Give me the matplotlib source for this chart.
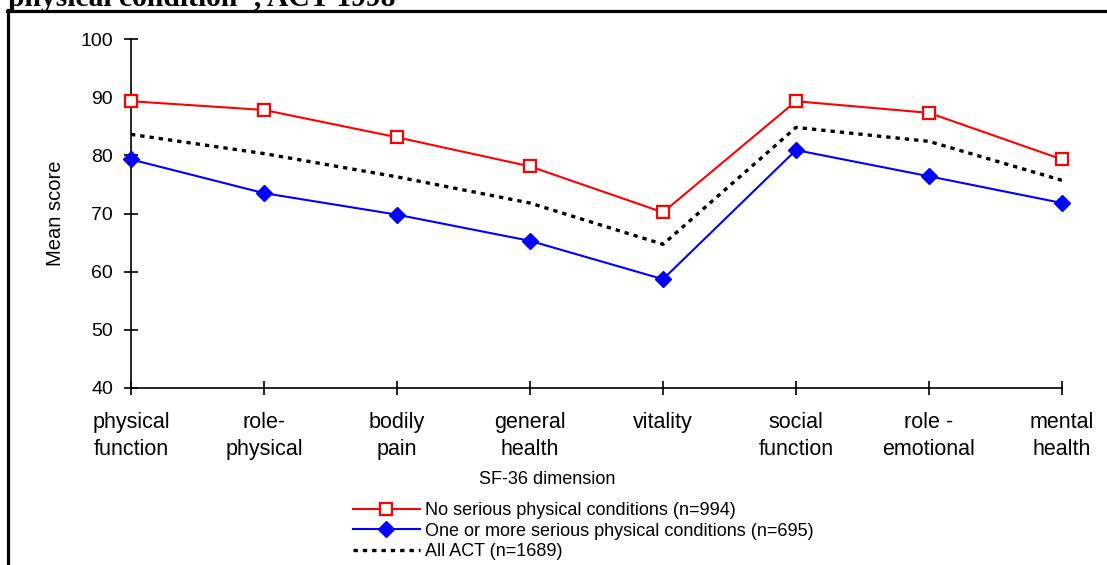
import matplotlib.pyplot as plt
from matplotlib.lines import Line2D
import numpy as np

plt.rcParams['font.family'] = ['Liberation Sans', 'DejaVu Sans']

# SF-36 dimensions
categories = ['physical\nfunction', 'role-\nphysical', 'bodily\npain', 'general\nhealth',
              'vitality', 'social\nfunction', 'role -\nemotional', 'mental\nhealth']
no_serious = [89.3, 87.8, 83.1, 78.1, 70.2, 89.3, 87.3, 79.3]
one_or_more = [79.3, 73.5, 69.8, 65.3, 58.7, 80.9, 76.4, 71.8]
all_act = [83.6, 80.3, 76.3, 71.8, 64.7, 84.8, 82.4, 75.7]
labels = ['No serious physical conditions (n=994)',
          'One or more serious physical conditions (n=695)',
          'All ACT (n=1689)']

W, H = 1107, 565
fig = plt.figure(figsize=(W / 100, H / 100), dpi=100)
ax = fig.add_axes([131 / W, 1 - 388 / H, 931 / W, 349 / H])

x = np.arange(len(categories))
l1, = ax.plot(x, no_serious, color='#ff0000', lw=1.5, marker='s', ms=8,
              mfc='white', mec='#ff0000', mew=1.6, clip_on=False, zorder=3)
l2, = ax.plot(x, one_or_more, color='#0000ff', lw=1.5, marker='D', ms=8,
              mfc='#0000ff', mec='#0000ff', clip_on=False, zorder=3)
l3, = ax.plot(x, all_act, color='black', lw=2.4, ls=(0, (1.3, 1.5)), zorder=2)

ax.set_xlim(0, len(categories) - 1)
ax.set_ylim(40, 100)
ax.set_yticks(range(40, 101, 10))
ax.set_xticks(x)
ax.set_xticklabels(categories, linespacing=1.38)
ax.tick_params(axis='both', direction='inout', length=10, width=1.2)
ax.tick_params(axis='x', pad=12, labelsize=15.5)
ax.tick_params(axis='y', pad=8, labelsize=14)
for s in ['top', 'right']:
    ax.spines[s].set_visible(False)
for s in ['left', 'bottom']:
    ax.spines[s].set_linewidth(1.2)

ax.set_ylabel('Mean score', fontsize=14.5)
ax.yaxis.set_label_coords(-66 / 931, 0.5)
fig.text(547 / W, 1 - 480 / H, 'SF-36 dimension', fontsize=13, ha='center', va='center')

fig.legend([l1, l2, l3], labels, loc='upper left',
           bbox_to_anchor=(353 / W, 1 - 502 / H), frameon=False, fontsize=13,
           handlelength=3.7, handletextpad=0.3, labelspacing=0.2, borderpad=0,
           borderaxespad=0)

# cut-off title and frame from the source page
fig.text(8 / W, 1 - 6 / H, 'physical condition", ACT 1998', fontsize=21.3,
         fontweight='bold', family=['Liberation Serif', 'DejaVu Serif'],
         ha='left', va='baseline')
fig.add_artist(Line2D([8 / W, 8 / W], [0, 1 - 10 / H], color='black', lw=2.3,
                      transform=fig.transFigure))
fig.add_artist(Line2D([7 / W, 1], [1 - 10.5 / H, 1 - 10.5 / H], color='black',
                      lw=2.3, transform=fig.transFigure))

fig.savefig('out.png', dpi=100)
